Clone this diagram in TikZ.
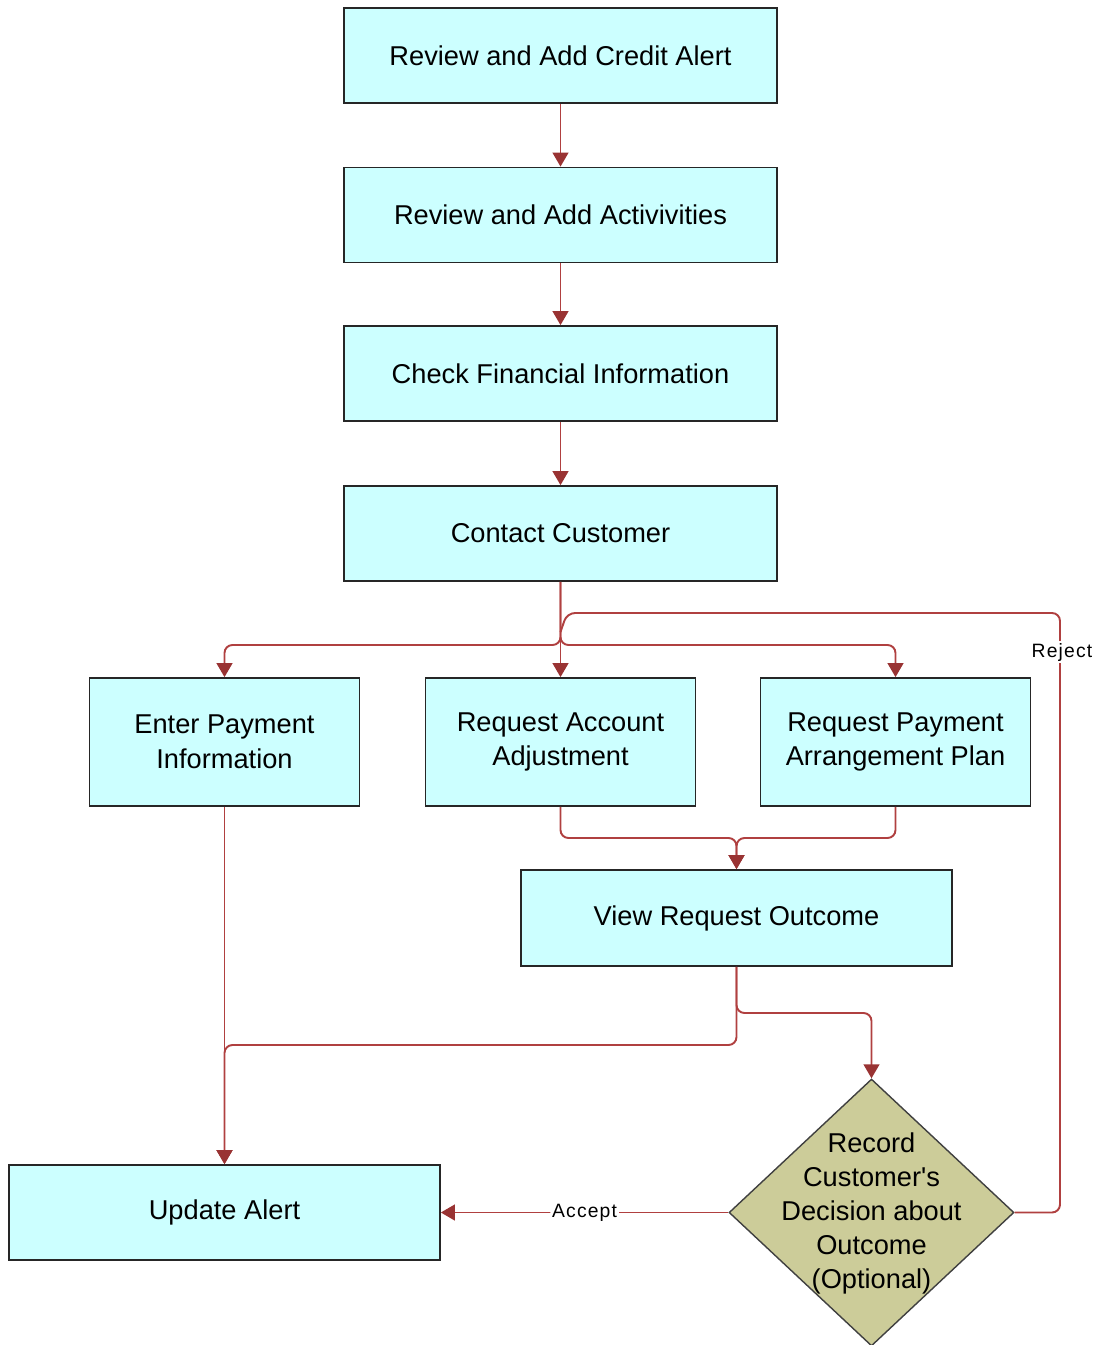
\documentclass[tikz,border=0pt]{standalone}
\usepackage{fontspec}
\setmainfont{Liberation Sans}[Ligatures=TeXOff]
\usetikzlibrary{arrows.meta,shapes.geometric}
\definecolor{boxfill}{RGB}{204,255,255}
\definecolor{dfill}{RGB}{204,204,153}
\definecolor{linec}{RGB}{176,64,64}
\definecolor{arrc}{RGB}{153,51,51}
\tikzset{
  box/.style={draw=black!85, line width=1pt, fill=boxfill, minimum width=8.66cm, minimum height=1.9cm,
    align=center, inner sep=0pt, font=\fontsize{15.5}{19.8}\selectfont},
  sbox/.style={box, minimum width=5.4cm, minimum height=2.56cm},
  conn/.style={draw=linec, line width=1.1pt, rounded corners=0.16cm},
  arr/.style={conn, -{Triangle[width=9pt,length=8pt,color=arrc]}},
  lbl/.style={fill=white, inner sep=1pt, font=\fontsize{11}{13}\selectfont\addfontfeatures{LetterSpace=6}},
  dshape/.style={diamond, draw=black!75, line width=0.8pt, fill=dfill, minimum width=5.7cm, minimum height=5.34cm, inner sep=0pt},
  dtext/.style={align=center, inner sep=0pt, font=\fontsize{15.5}{19.4}\selectfont}
}
\begin{document}
\begin{tikzpicture}[x=0.02cm,y=-0.02cm]
\useasboundingbox (0,0) rectangle (1099,1345);
% nodes
\node[box] (b1) at (560.5,55.5) {Review and Add Credit Alert};
\node[box] (b2) at (560.5,215) {Review and Add Activivities};
\node[box] (b3) at (560.5,373.5) {Check Financial Information};
\node[box] (b4) at (560.5,533.5) {Contact Customer};
\node[sbox] (ep) at (224.5,742) {Enter Payment\\Information};
\node[sbox] (ra) at (560.5,742) {Request Account\\Adjustment};
\node[sbox] (rp) at (895.5,742) {Request Payment\\Arrangement Plan};
\node[box, minimum width=8.62cm, minimum height=1.92cm] (vr) at (736.5,918) {View Request Outcome};
\node[box, minimum width=8.62cm] (ua) at (224.5,1212.5) {Update Alert};
\node[dshape] (dm) at (871.5,1212.5) {};
\node[dtext] (dmt) at (871.5,1213.5) {Record\\Customer's\\Decision about\\Outcome\\(Optional)};
% coordinates
\coordinate (jA) at (560.5,645);
\coordinate (rB) at (1060,613);
\coordinate (rC) at (567,613);
\coordinate (rD) at (560.5,632);
\coordinate (jB) at (736.5,838);
\coordinate (jC) at (736.5,1045);
\coordinate (jE) at (736.5,1013);
% connectors
\draw[arr] (b1.south) -- (b2.north);
\draw[arr] (b2.south) -- (b3.north);
\draw[arr] (b3.south) -- (b4.north);
\draw[arr] (b4.south) -- (ra.north);
\draw[arr] (b4.south) -- (jA) -- (ep.north |- jA) -- (ep.north);
\draw[arr] (b4.south) -- (jA) -- (rp.north |- jA) -- (rp.north);
\draw[conn] (dm.east) -- (dm.east -| rB) -- (rB) -- (rC) -- (rD);
\node[lbl] (rej) at (1062,652) {Reject};
\draw[arr] (ra.south) -- (ra.south |- jB) -- (jB) -- (vr.north);
\draw[arr] (rp.south) -- (rp.south |- jB) -- (jB) -- (vr.north);
\draw[arr] (ep.south) -- (ua.north);
\draw[arr] (vr.south) -- (jC) -- (ua.north |- jC) -- (ua.north);
\draw[arr] (vr.south) -- (jE) -- (dm.north |- jE) -- (dm.north);
\draw[arr] (dm.west) -- node[lbl] (acc) {Accept} (ua.east);
\end{tikzpicture}
\end{document}
